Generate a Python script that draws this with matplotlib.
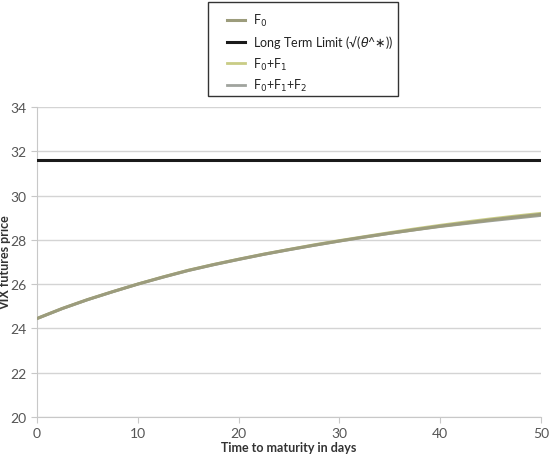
import matplotlib
matplotlib.use("Agg")
import matplotlib.pyplot as plt
from matplotlib.patches import Rectangle

days = [0, 2.5, 5, 7.5, 10, 12.5, 15, 17.5, 20, 22.5, 25, 27.5, 30, 32.5, 35, 37.5, 40, 42.5, 45, 47.5, 50]
f0 = [24.45, 24.90, 25.30, 25.66, 26.00, 26.32, 26.62, 26.88, 27.12, 27.35, 27.56, 27.76, 27.95,
      28.13, 28.30, 28.46, 28.62, 28.76, 28.90, 29.03, 29.15]
f0_f1 = [24.45, 24.90, 25.30, 25.66, 26.01, 26.33, 26.63, 26.89, 27.13, 27.36, 27.57, 27.78, 27.97,
         28.15, 28.33, 28.50, 28.66, 28.81, 28.95, 29.08, 29.20]
f0_f1_f2 = [24.44, 24.89, 25.29, 25.65, 26.00, 26.31, 26.61, 26.87, 27.11, 27.34, 27.55, 27.75, 27.94,
            28.12, 28.29, 28.45, 28.60, 28.73, 28.86, 28.98, 29.10]
long_term = 31.6

x_ticks = [0, 10, 20, 30, 40, 50]
y_ticks = [20, 22, 24, 26, 28, 30, 32, 34]

plt.rcParams['font.family'] = ['Lato', 'DejaVu Sans']

W, H = 549, 477
fig = plt.figure(figsize=(5.49, 4.77), dpi=100)
ax = fig.add_axes([0.0674, 0.1237, 0.918, 0.6499])

l1, = ax.plot(days, f0, color='#9c9c7c', lw=2.2, label=r'F$_0$', zorder=3)
l2, = ax.plot([days[0], days[-1]], [long_term, long_term], color='#1a1a1a', lw=2.2,
              label=r'Long Term Limit (√($\theta$^$\ast$))', zorder=4)
l3, = ax.plot(days, f0_f1, color='#c9cc85', lw=2.0, label=r'F$_0$+F$_1$', zorder=2)
l4, = ax.plot(days, f0_f1_f2, color='#a0a49e', lw=2.0, label=r'F$_0$+F$_1$+F$_2$', zorder=2.5)

ax.set_xlim(0, 50)
ax.set_ylim(20, 34)
ax.set_xticks(x_ticks)
ax.set_yticks(y_ticks)
ax.grid(axis='y', color='#d4d4d4', lw=1.0)
ax.set_axisbelow(True)
for s in ['top', 'right']:
    ax.spines[s].set_visible(False)
for s in ['left', 'bottom']:
    ax.spines[s].set_color('#c8c8c8')
ax.tick_params(axis='both', colors='#c8c8c8', labelcolor='#555555', labelsize=10,
               length=4, direction='out')
ax.set_xlabel('Time to maturity in days', fontsize=9, fontweight='bold', color='#333333', labelpad=1)
ax.set_ylabel('VIX futures price', fontsize=9, fontweight='bold', color='#333333')
ax.yaxis.set_label_coords(-0.052, 0.5)

# legend box frame
fig.patches.append(Rectangle((208 / W, 1 - 97 / H), 190 / W, 94 / H, transform=fig.transFigure,
                             fill=False, edgecolor='#333333', lw=1.0))

leg = fig.legend(handles=[l1, l2, l3, l4], loc='upper left',
                 bbox_to_anchor=(227 / W, 1 - 13 / H),
                 frameon=False, fontsize=9.0,
                 handlelength=1.45, borderpad=0.0, labelspacing=0.42, handletextpad=0.6,
                 borderaxespad=0.0)
for t in leg.get_texts():
    t.set_color('#222222')

fig.savefig('out.png', dpi=100)
